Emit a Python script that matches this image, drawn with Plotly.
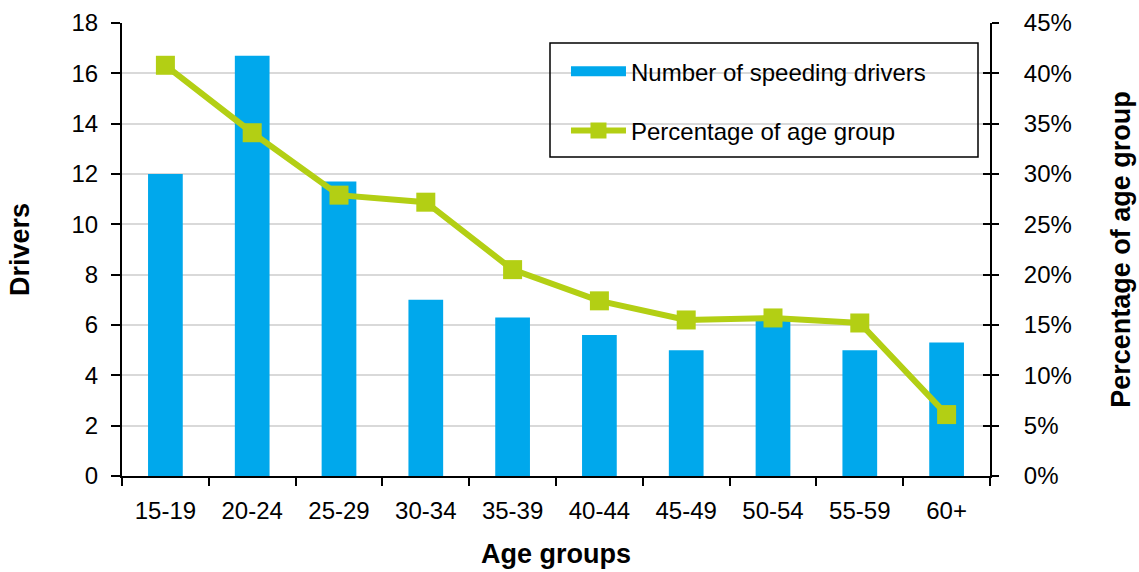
import plotly.graph_objects as go

age_groups = ["15-19", "20-24", "25-29", "30-34", "35-39", "40-44", "45-49", "50-54", "55-59", "60+"]
speeding_drivers = [12.0, 16.7, 11.7, 7.0, 6.3, 5.6, 5.0, 6.2, 5.0, 5.3]
pct_of_age_group = [0.408, 0.341, 0.279, 0.272, 0.205, 0.174, 0.155, 0.157, 0.152, 0.061]

left_ticks = list(range(0, 19, 2))
right_ticks = [i * 0.05 for i in range(10)]

FONT = "Liberation Sans, Arial, sans-serif"
BAR_COLOR = "#00A8EC"
LINE_COLOR = "#B3CF14"

W, H = 1139, 572
PL, PR, PT, PB = 122, 990, 23, 476  # plot area in pixels

fig = go.Figure()
fig.add_trace(go.Bar(
    x=age_groups, y=speeding_drivers, name="Number of speeding drivers",
    marker=dict(color=BAR_COLOR, line=dict(width=0)),
    showlegend=False, yaxis="y",
))
# legend entry for bars (wide swatch like the original)
fig.add_trace(go.Scatter(
    x=[age_groups[0]], y=[None], name="Number of speeding drivers",
    mode="lines", line=dict(color=BAR_COLOR, width=15),
    legendgroup="a", hoverinfo="skip", yaxis="y",
))
fig.add_trace(go.Scatter(
    x=age_groups, y=pct_of_age_group, name="Percentage of age group",
    mode="lines+markers",
    line=dict(color=LINE_COLOR, width=6),
    marker=dict(symbol="square", size=19, color=LINE_COLOR),
    legendgroup="b", yaxis="y2",
))
fig.add_trace(go.Scatter(x=[age_groups[0]], y=[None], yaxis="y3", showlegend=False, hoverinfo="skip"))

fig.update_layout(
    width=W, height=H,
    margin=dict(l=PL, r=W - PR, t=PT, b=H - PB),
    paper_bgcolor="white", plot_bgcolor="white",
    font=dict(family=FONT, size=24, color="black"),
    bargap=0.6,
    showlegend=True,
    legend=dict(
        x=0.5115, y=0.942, xanchor="left", yanchor="top",
        bgcolor="rgba(0,0,0,0)", borderwidth=0,
        font=dict(family=FONT, size=24, color="black"),
        traceorder="grouped", tracegroupgap=25, itemwidth=55,
    ),
    xaxis=dict(
        title=dict(text="<b>Age groups</b>", font=dict(size=27), standoff=21),
        range=[-0.5, len(age_groups) - 0.5],
        showline=True, linecolor="black", linewidth=2,
        ticks="outside", tickson="boundaries", ticklen=8, tickwidth=2, tickcolor="black",
        showgrid=False, tickfont=dict(size=24), ticklabelstandoff=12,
        automargin=False,
    ),
    yaxis=dict(
        title=dict(text="<b>Drivers</b>", font=dict(size=27), standoff=34),
        range=[0, 18], tickvals=left_ticks,
        showline=True, linecolor="black", linewidth=2,
        ticks="outside", ticklen=9, tickwidth=1.5, tickcolor="black",
        showgrid=True, gridcolor="#d9d9d9", gridwidth=2,
        tickfont=dict(size=24), zeroline=False, ticklabelstandoff=8,
        automargin=False,
    ),
    yaxis2=dict(
        title=dict(text="<b>Percentage of age group</b>", font=dict(size=27), standoff=40),
        range=[0, 0.45], tickvals=right_ticks, tickformat=".0%",
        overlaying="y", side="right", anchor="x",
        showline=True, linecolor="black", linewidth=2,
        ticks="outside", ticklen=7, tickwidth=1.5, tickcolor="black",
        showgrid=False, tickfont=dict(size=24), zeroline=False, ticklabelstandoff=20,
        automargin=False,
    ),
    yaxis3=dict(
        range=[0, 0.45], tickvals=right_ticks,
        overlaying="y", side="right", anchor="x",
        ticks="inside", ticklen=7, tickwidth=1.5, tickcolor="black",
        showticklabels=False, showgrid=False, zeroline=False, showline=False,
        automargin=False,
    ),
    shapes=[dict(
        type="rect", xref="paper", yref="paper",
        x0=(550 - PL) / (PR - PL), x1=(978 - PL) / (PR - PL),
        y0=1 - (157 - PT) / (PB - PT), y1=1 - (43 - PT) / (PB - PT),
        line=dict(color="black", width=1.5), fillcolor="rgba(0,0,0,0)", layer="above",
    )],
)

fig.write_html("out.html", config={"displayModeBar": False},
               post_script="document.body.style.margin='0';")
